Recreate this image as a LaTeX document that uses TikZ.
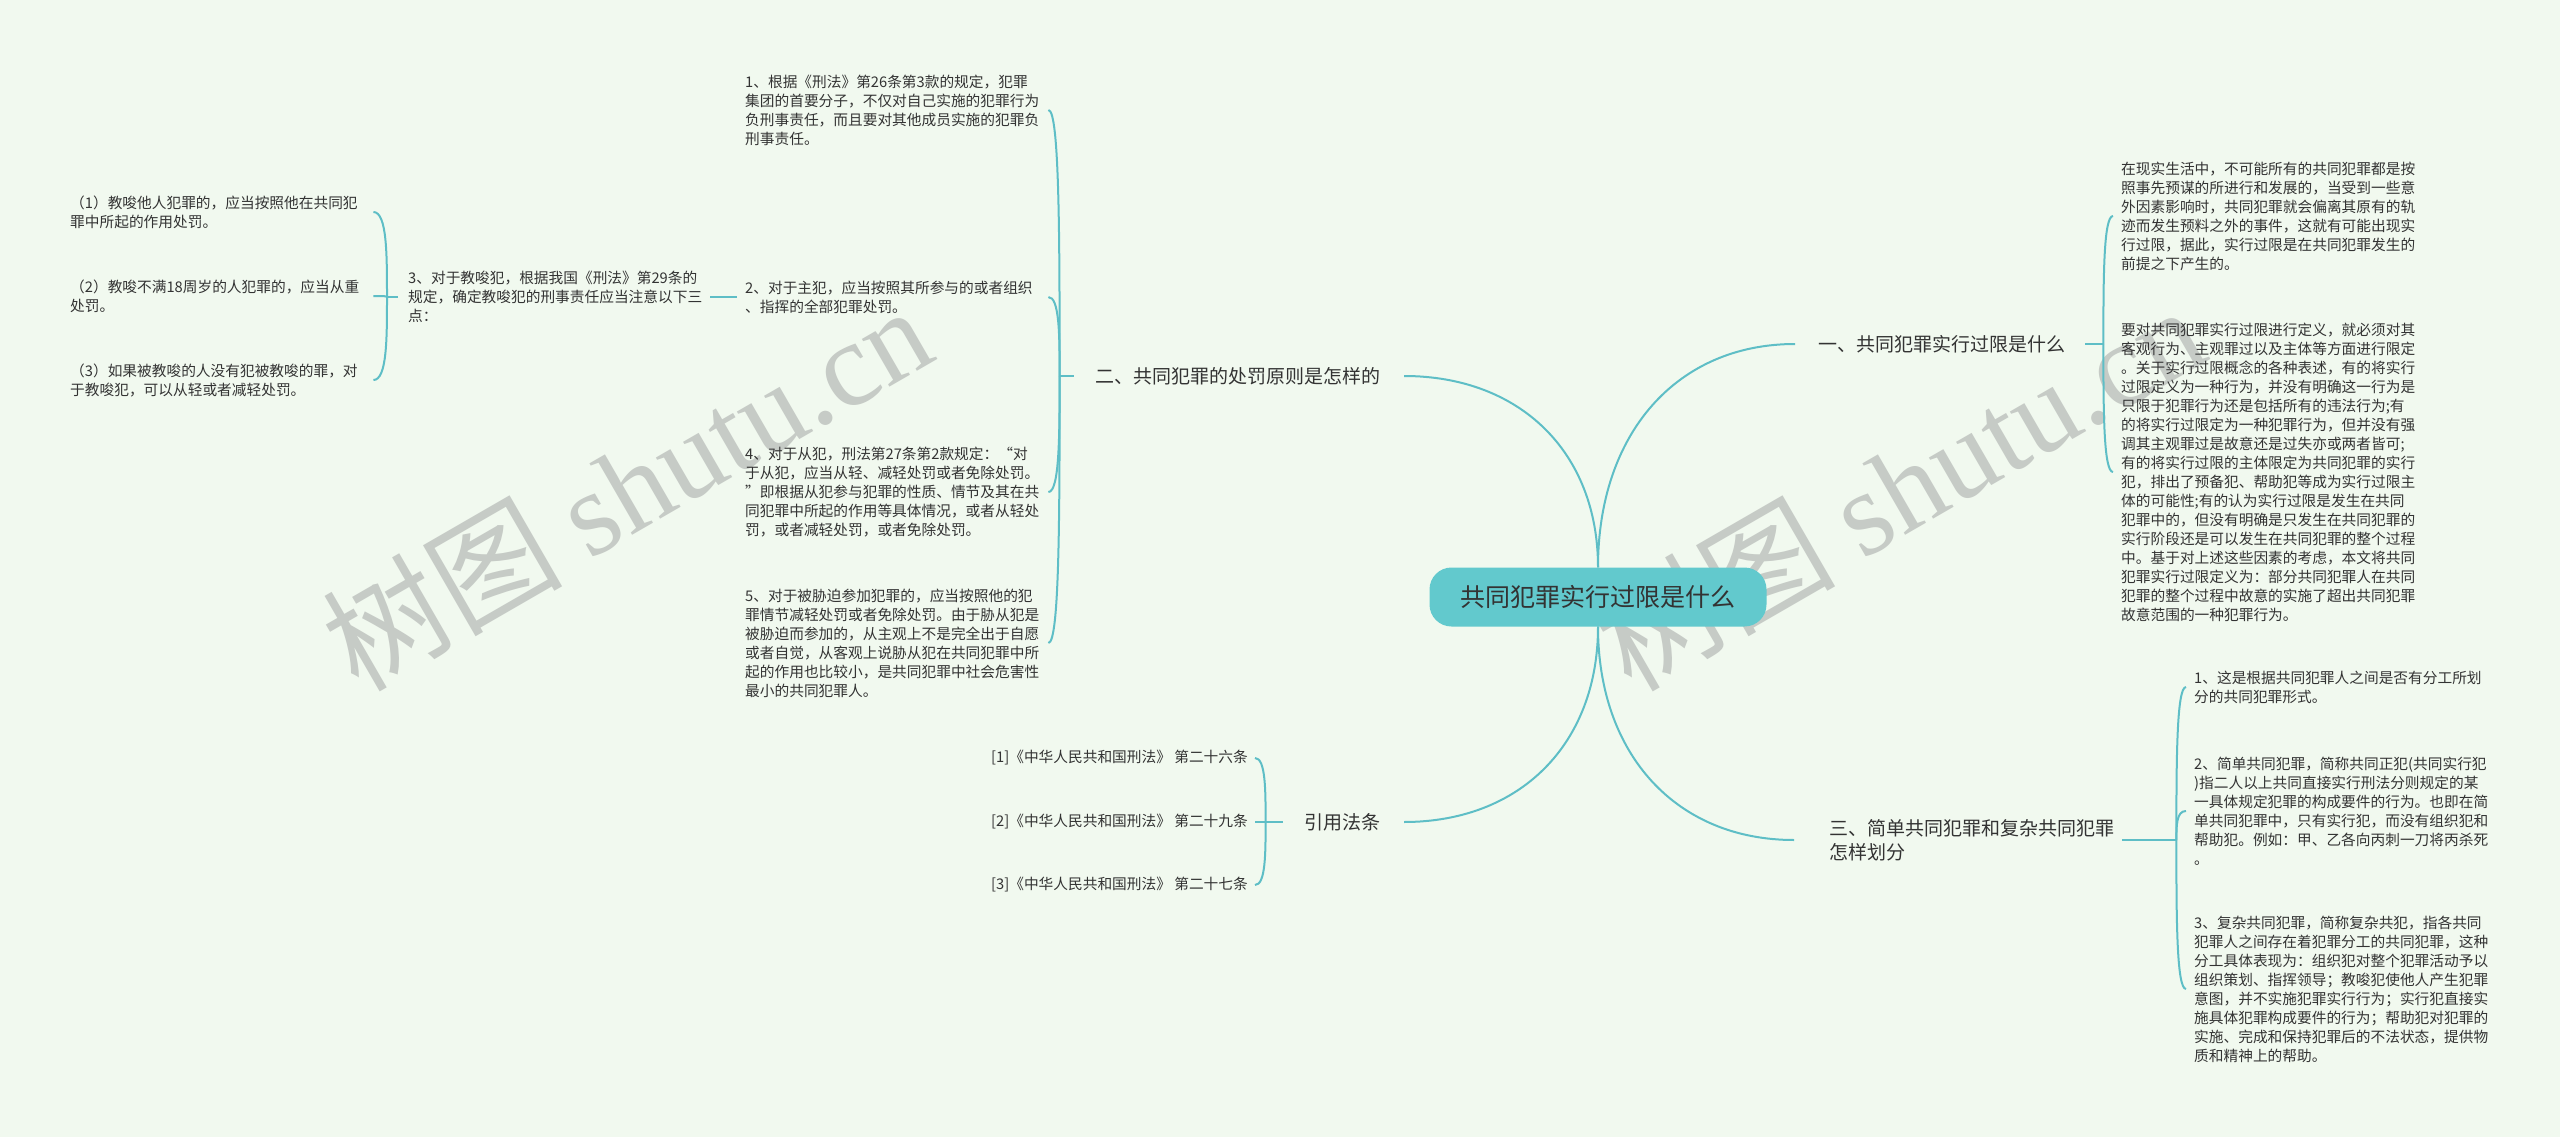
\documentclass[tikz,border=0pt]{standalone}
\usepackage{fontspec}
\setmainfont{Noto Sans CJK SC}
\newfontfamily\wmserif{Liberation Serif}
\usetikzlibrary{calc}
\definecolor{bgc}{RGB}{241,249,239}
\definecolor{lnc}{RGB}{94,190,198}
\definecolor{rootc}{RGB}{98,201,205}
\definecolor{txc}{RGB}{51,51,51}
\definecolor{wmc}{RGB}{198,203,198}
\tikzset{
  conn/.style={draw=lnc, line width=2pt},
  body/.style={inner sep=0pt, text=txc, align=left, text width=295pt, font=\fontsize{14.7}{19}\selectfont},
  refitem/.style={inner sep=0pt, text=txc, font=\fontsize{14.7}{19}\selectfont},
  branch/.style={inner sep=0pt, text=txc, align=left, font=\fontsize{19}{24}\selectfont},
  rootbox/.style={fill=rootc, rounded corners=22pt, minimum width=337pt, minimum height=59pt, inner sep=0pt, text=txc, font=\fontsize{25}{30}\selectfont},
  wm/.style={text=wmc, font=\fontsize{120}{120}\selectfont, rotate=30, anchor=base, inner sep=0pt},
}
\newcommand\armto[2]{\draw[conn] (#1) .. controls ($(#1)!0.5!(#1|-#2)$) and (#1|-#2) .. (#2);}
\newcommand\rootcurve[2]{\draw[conn] (#1) .. controls ($(#1)!0.6!(#1|-#2)$) and ($(#1|-#2)!0.4!(#2)$) .. (#2);}
\begin{document}
\begin{tikzpicture}[x=1pt,y=-1pt]
\fill[bgc] (0,0) rectangle (2560,1137);
\useasboundingbox (0,0) rectangle (2560,1137);

% watermarks
\node[wm] (wm1) at (649,526) {树图 {\wmserif shutu.cn}};
\node[wm] (wm2) at (1922,526) {树图 {\wmserif shutu.cn}};

% root
\node[rootbox] (root) at (1598,597) {共同犯罪实行过限是什么};

% branches
\node[branch, anchor=west] (b1) at (1818,344) {一、共同犯罪实行过限是什么};
\node[branch, anchor=east] (b2) at (1381,376) {二、共同犯罪的处罚原则是怎样的};
\node[branch, anchor=west] (b3) at (1829,840) {三、简单共同犯罪和复杂共同犯罪\\怎样划分};
\node[branch, anchor=east] (b4) at (1381,822) {引用法条};

\coordinate (b1in) at ([xshift=-23pt]b1.west);
\coordinate (b2in) at ([xshift=23pt]b2.east);
\coordinate (b3in) at ([xshift=-35pt]b3.west);
\coordinate (b4in) at ([xshift=23pt]b4.east);

\rootcurve{root.north}{b1in}
\rootcurve{root.north}{b2in}
\rootcurve{root.south}{b3in}
\rootcurve{root.south}{b4in}

% ---------- branch 1 ----------
\node[body, anchor=west] (a1) at (2121,216) {在现实生活中，不可能所有的共同犯罪都是按\\照事先预谋的所进行和发展的，当受到一些意\\外因素影响时，共同犯罪就会偏离其原有的轨\\迹而发生预料之外的事件，这就有可能出现实\\行过限，据此，实行过限是在共同犯罪发生的\\前提之下产生的。};
\node[body, anchor=west] (a2) at (2121,472) {要对共同犯罪实行过限进行定义，就必须对其\\客观行为、主观罪过以及主体等方面进行限定\\。关于实行过限概念的各种表述，有的将实行\\过限定义为一种行为，并没有明确这一行为是\\只限于犯罪行为还是包括所有的违法行为;有\\的将实行过限定为一种犯罪行为，但并没有强\\调其主观罪过是故意还是过失亦或两者皆可;\\有的将实行过限的主体限定为共同犯罪的实行\\犯，排出了预备犯、帮助犯等成为实行过限主\\体的可能性;有的认为实行过限是发生在共同\\犯罪中的，但没有明确是只发生在共同犯罪的\\实行阶段还是可以发生在共同犯罪的整个过程\\中。基于对上述这些因素的考虑，本文将共同\\犯罪实行过限定义为：部分共同犯罪人在共同\\犯罪的整个过程中故意的实施了超出共同犯罪\\故意范围的一种犯罪行为。};
\coordinate (p1) at ([xshift=38pt]b1.east);
\draw[conn] ([xshift=20pt]b1.east) -- (p1);
\coordinate (a1in) at ([xshift=-8pt]a1.west);
\coordinate (a2in) at ([xshift=-8pt]a2.west);
\armto{p1}{a1in}
\armto{p1}{a2in}

% ---------- branch 2 ----------
\node[body, anchor=west] (i1) at (745,110) {1、根据《刑法》第26条第3款的规定，犯罪\\集团的首要分子，不仅对自己实施的犯罪行为\\负刑事责任，而且要对其他成员实施的犯罪负\\刑事责任。};
\node[body, anchor=west] (i2) at (745,297) {2、对于主犯，应当按照其所参与的或者组织\\、指挥的全部犯罪处罚。};
\node[body, anchor=west] (i4) at (745,492) {4、对于从犯，刑法第27条第2款规定：“对\\于从犯，应当从轻、减轻处罚或者免除处罚。\\”即根据从犯参与犯罪的性质、情节及其在共\\同犯罪中所起的作用等具体情况，或者从轻处\\罚，或者减轻处罚，或者免除处罚。};
\node[body, anchor=west] (i5) at (745,643) {5、对于被胁迫参加犯罪的，应当按照他的犯\\罪情节减轻处罚或者免除处罚。由于胁从犯是\\被胁迫而参加的，从主观上不是完全出于自愿\\或者自觉，从客观上说胁从犯在共同犯罪中所\\起的作用也比较小，是共同犯罪中社会危害性\\最小的共同犯罪人。};
\node[body, anchor=west] (i3) at (408,297) {3、对于教唆犯，根据我国《刑法》第29条的\\规定，确定教唆犯的刑事责任应当注意以下三\\点：};
\node[body, anchor=west] (s1) at (70,212) {（1）教唆他人犯罪的，应当按照他在共同犯\\罪中所起的作用处罚。};
\node[body, anchor=west] (s2) at (70,296) {（2）教唆不满18周岁的人犯罪的，应当从重\\处罚。};
\node[body, anchor=west] (s3) at (70,380) {（3）如果被教唆的人没有犯被教唆的罪，对\\于教唆犯，可以从轻或者减轻处罚。};

\coordinate (p2) at ([xshift=-36pt]b2.west);
\draw[conn] ([xshift=-22pt]b2.west) -- (p2);
\coordinate (i1in) at ([xshift=8pt]i1.east);
\coordinate (i2in) at ([xshift=8pt]i2.east);
\coordinate (i4in) at ([xshift=8pt]i4.east);
\coordinate (i5in) at ([xshift=8pt]i5.east);
\armto{p2}{i1in}
\armto{p2}{i2in}
\armto{p2}{i4in}
\armto{p2}{i5in}
\draw[conn] ([xshift=-8pt]i2.west) -- ([xshift=7pt]i3.east);
\coordinate (p3) at ([xshift=-21pt]i3.west);
\draw[conn] ([xshift=-10pt]i3.west) -- (p3);
\coordinate (s1in) at ([xshift=8pt]s1.east);
\coordinate (s2in) at ([xshift=8pt]s2.east);
\coordinate (s3in) at ([xshift=8pt]s3.east);
\armto{p3}{s1in}
\armto{p3}{s2in}
\armto{p3}{s3in}

% ---------- branch 3 ----------
\node[body, anchor=west] (c1) at (2194,687) {1、这是根据共同犯罪人之间是否有分工所划\\分的共同犯罪形式。};
\node[body, anchor=west] (c2) at (2194,811) {2、简单共同犯罪，简称共同正犯(共同实行犯\\)指二人以上共同直接实行刑法分则规定的某\\一具体规定犯罪的构成要件的行为。也即在简\\单共同犯罪中，只有实行犯，而没有组织犯和\\帮助犯。例如：甲、乙各向丙刺一刀将丙杀死\\。};
\node[body, anchor=west] (c3) at (2194,989) {3、复杂共同犯罪，简称复杂共犯，指各共同\\犯罪人之间存在着犯罪分工的共同犯罪，这种\\分工具体表现为：组织犯对整个犯罪活动予以\\组织策划、指挥领导；教唆犯使他人产生犯罪\\意图，并不实施犯罪实行行为；实行犯直接实\\施具体犯罪构成要件的行为；帮助犯对犯罪的\\实施、完成和保持犯罪后的不法状态，提供物\\质和精神上的帮助。};
\coordinate (p5) at ([xshift=62pt]b3.east);
\draw[conn] ([xshift=8pt]b3.east) -- (p5);
\coordinate (c1in) at ([xshift=-8pt]c1.west);
\coordinate (c2in) at ([xshift=-8pt]c2.west);
\coordinate (c3in) at ([xshift=-8pt]c3.west);
\armto{p5}{c1in}
\armto{p5}{c2in}
\armto{p5}{c3in}

% ---------- branch 4 ----------
\node[refitem, anchor=east] (r1) at (1248,758) {[1]《中华人民共和国刑法》 第二十六条};
\node[refitem, anchor=east] (r2) at (1248,822) {[2]《中华人民共和国刑法》 第二十九条};
\node[refitem, anchor=east] (r3) at (1248,885) {[3]《中华人民共和国刑法》 第二十七条};
\coordinate (p4) at ([xshift=-39pt]b4.west);
\draw[conn] ([xshift=-22pt]b4.west) -- (p4);
\coordinate (r1in) at ([xshift=7pt]r1.east);
\coordinate (r2in) at ([xshift=7pt]r2.east);
\coordinate (r3in) at ([xshift=7pt]r3.east);
\armto{p4}{r1in}
\armto{p4}{r2in}
\armto{p4}{r3in}
\end{tikzpicture}
\end{document}
